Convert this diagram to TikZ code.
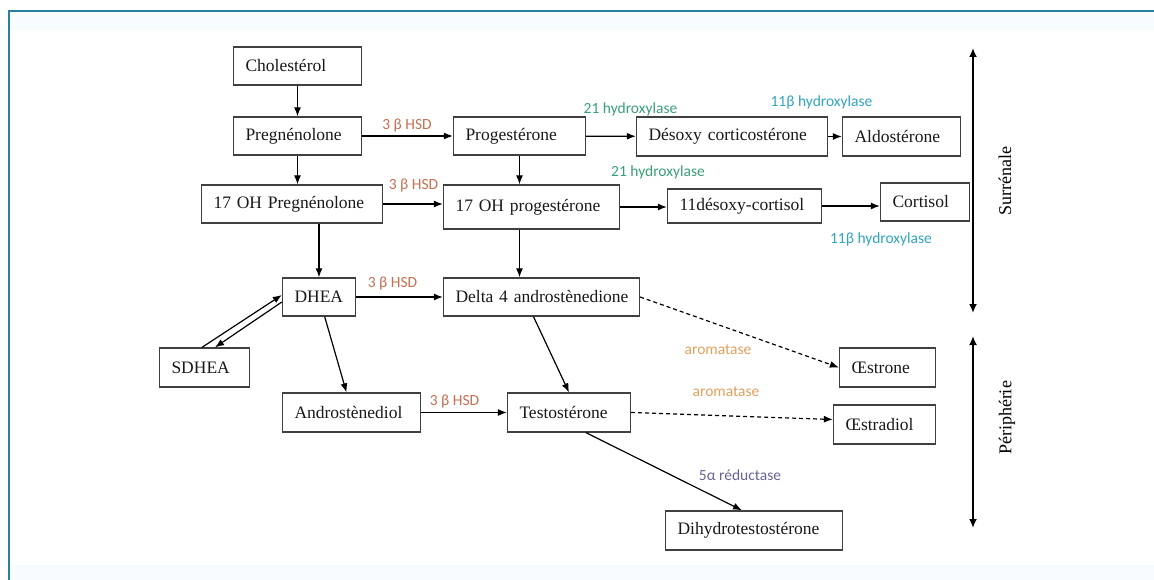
\documentclass[tikz,border=0pt]{standalone}
\usepackage{fontspec}
\setmainfont{Liberation Serif}
\newfontfamily\lblfont{Carlito}
\usetikzlibrary{arrows.meta}
\definecolor{frameblue}{RGB}{40,128,158}
\definecolor{hsd}{RGB}{196,112,82}
\definecolor{hydro}{RGB}{56,160,118}
\definecolor{onebeta}{RGB}{48,165,190}
\definecolor{arom}{RGB}{224,160,92}
\definecolor{reduc}{RGB}{104,100,150}

\begin{document}
\begin{tikzpicture}[x=1pt, y=-1pt, line width=1.2pt, node distance=70pt,
    main/.style = {draw=black!75, line width=1.3pt, rectangle, minimum height=38pt, inner xsep=12pt, inner ysep=0pt, align=left, text=black!90, font=\fontsize{17.5}{20}\selectfont},
    lbl/.style = {inner sep=0pt, font=\lblfont\fontsize{15.5}{18}\selectfont},
    arr/.style = {-{Latex[length=9pt,width=7pt]}},
    dsh/.style = {arr, dash pattern=on 4pt off 3pt},
    side/.style = {{Latex[length=9pt,width=8pt]}-{Latex[length=9pt,width=8pt]}, line width=2.4pt},
    sidetext/.style = {rotate=90, font=\fontsize{18}{20}\selectfont}]
                \useasboundingbox (0,0) rectangle (1154,580);
                \fill[cyan!3] (10,12) rectangle (1154,30);
                \fill[cyan!3] (10,565) rectangle (1154,580);
                \draw[frameblue, line width=2.5pt] (9,580) -- (9,11) -- (1154,11);

                \node[main, text width=104pt] (1) at (297.5,66) {Cholestérol};
                \node[main, text width=104pt] (2) [below of=1] {Pregnénolone};
                \draw[arr] (1) -- (2);

                \node[main, text width=108pt] (3) at (519.5,136) {Progestérone};
                \draw[arr] (2) -- (3);
                \node[lbl, text=hsd] (l1) at (407,126) {3 β HSD};
                \node[main, text width=167pt, minimum height=39pt] (4) at (732,136.5) {Désoxy corticostérone};
                \draw[arr] (3) -- (4);
                \node[lbl, text=hydro] (l2) at (630.5,109) {21 hydroxylase};
                \node[main, text width=94pt, minimum height=39pt] (5) at (901.5,136.5) {Aldostérone};
                \draw[arr] (4) -- (5);
                \node[lbl, text=onebeta] (l3) at (821.5,102) {11β hydroxylase};

                \node[main, text width=157pt] (6) at (292,204) {17 OH Pregnénolone};
                \draw[arr] (2) -- (2 |- 6.north);
                \node[main, text width=152pt, minimum height=44pt] (7) at (531.5,207) {17 OH progestérone};
                \draw[arr] (3) -- (3 |- 7.north);
                \draw[arr] (6) -- (6 -| 7.west);
                \node[lbl, text=hsd] (l4) at (413.5,186) {3 β HSD};
                \node[main, text width=130pt, minimum height=34pt] (8) at (744.5,206) {11désoxy-cortisol};
                \draw[arr] (7) -- (7 -| 8.west);
                \node[lbl, text=hydro] (l5) at (658,172) {21 hydroxylase};
                \node[main, text width=65pt] (9) at (925,202) {Cortisol};
                \draw[arr] (8) -- (8 -| 9.west);
                \node[lbl, text=onebeta] (l6) at (881,239) {11β hydroxylase};

                \node[main, text width=49pt] (10) at (319,297) {DHEA};
                \draw[arr] (10 |- 6.south) -- (10);
                \node[main, text width=172pt] (11) at (541.5,297) {\mbox{Delta 4 androstènedione}};
                \draw[arr] (3 |- 7.south) -- (3 |- 11.north);
                \draw[arr] (10) -- (10 -| 11.west);
                \node[lbl, text=hsd] (l7) at (392.5,284) {3 β HSD};

                \node[main, text width=66pt, minimum height=39pt] (12) at (204.5,367.5) {SDHEA};
                \draw[arr] ([xshift=-2.5pt]12.north) -- ([yshift=2pt]10.west);
                \draw[arr] ([yshift=-5pt]10.west) -- ([xshift=10.5pt]12.north);
                \node[main, text width=114pt, minimum height=39pt] (13) at (351.5,412.5) {Androstènediol};
                \draw[arr] (10) -- ([xshift=-5pt]13.north);
                \node[main, text width=99pt, minimum height=39pt] (14) at (569,412.5) {Testostérone};
                \draw[arr] (13) -- (13 -| 14.west);
                \node[lbl, text=hsd] (l8) at (454.5,402) {3 β HSD};
                \draw[arr] ([xshift=-8pt]11.south) -- (14.north);

                \node[main, text width=72pt, minimum height=39pt] (15) at (887.5,367.5) {Œstrone};
                \draw[dsh] (11.east) -- (15.west);
                \node[lbl, text=arom] (l9) at (718,350) {aromatase};
                \node[main, text width=78pt, minimum height=39pt] (16) at (884.5,424.5) {Œstradiol};
                \draw[dsh] (14.east) -- ([yshift=5pt]16.west);
                \node[lbl, text=arom] (l10) at (726,392) {aromatase};
                \node[main, text width=153pt, minimum height=39pt] (17) at (754,530.5) {Dihydrotestostérone};
                \draw[arr] ([xshift=17pt]14.south) -- ([xshift=-12pt]17.north);
                \node[lbl, text=reduc] (l11) at (740,475) {5α réductase};

                \coordinate (s1) at (973,48);
                \coordinate (s2) at (973,313);
                \draw[side] (s1) -- (s2);
                \node[sidetext] (s) at (1005,181) {Surrénale};
                \coordinate (p1) at (973,336);
                \coordinate (p2) at (973,528);
                \draw[side] (p1) -- (p2);
                \node[sidetext] (p) at (1007,418) {Périphérie};
            \end{tikzpicture}
\end{document}
